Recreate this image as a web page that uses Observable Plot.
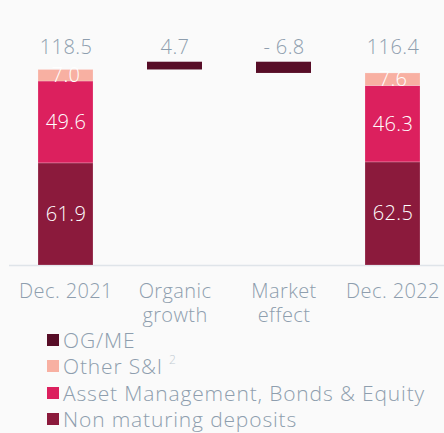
<!DOCTYPE html>
<html>
<head>
<meta charset="utf-8">
<script src="https://cdn.jsdelivr.net/npm/d3@7"></script>
<script src="https://cdn.jsdelivr.net/npm/@observablehq/plot@0.6"></script>
<style>
  html, body { margin: 0; padding: 0; background: #fafafa; }
  body { width: 444px; height: 433px; position: relative; overflow: hidden; font-family: "Open Sans", Lato, sans-serif; font-weight: 300; }
  #chart { position: absolute; left: 0; top: 0; }
  #legend { position: absolute; left: 47px; top: 327px; color: #8e9eae; font-size: 21px; letter-spacing: 0.85px; }
  .row { height: 26.3px; line-height: 26.3px; display: flex; align-items: center; white-space: nowrap; }
  .sw { width: 12px; height: 12px; margin-right: 4px; flex: none; }
  sup { font-size: 12px; color: #c3cbd3; margin-left: 6px; position: relative; top: -6px; }
</style>
</head>
<body>
<div id="chart"></div>
<div id="legend"></div>
<script>
// ---- data ----
const categories = ["Dec. 2021", "Organic growth", "Market effect", "Dec. 2022"];
const categoryLabels = ["Dec. 2021", "Organic\ngrowth", "Market\neffect", "Dec. 2022"];
const seriesNames = ["Non maturing deposits", "Asset Management, Bonds & Equity", "Other S&I"];
const dec2021 = [61.9, 49.6, 7.0];
const dec2022 = [62.5, 46.3, 7.6];
const totals = [118.5, 116.4];
const organicGrowth = 4.7;
const marketEffect = -6.8;
const topLabels = ["118.5", "4.7", "- 6.8", "116.4"];
const legendNames = ["OG/ME", "Other S&I", "Asset Management, Bonds & Equity", "Non maturing deposits"];

// ---- styles ----
const colors = {
  "OG/ME": "#570d27",
  "Other S&I": "#f8b0a2",
  "Asset Management, Bonds & Equity": "#dc205e",
  "Non maturing deposits": "#8b1a3c"
};
const labelColor = "#8e9eae";

// ---- derived tables ----
const stackRows = [];
seriesNames.forEach((s, i) => stackRows.push({cat: categories[0], series: s, value: dec2021[i]}));
seriesNames.forEach((s, i) => stackRows.push({cat: categories[3], series: s, value: dec2022[i]}));

const afterOrganic = totals[0] + organicGrowth;
const floatRows = [
  {cat: categories[1], y1: totals[0], y2: afterOrganic},
  {cat: categories[2], y1: afterOrganic, y2: afterOrganic + marketEffect}
];
const topRows = categories.map((c, i) => ({cat: c, label: topLabels[i]}));
const catRows = categories.map((c, i) => ({cat: c, label: categoryLabels[i]}));

const font = "'Open Sans', Lato, sans-serif";

const chart = Plot.plot({
  width: 444,
  height: 330,
  marginLeft: 9,
  marginRight: 0,
  marginTop: 1,
  marginBottom: 65,
  style: {background: "transparent", fontFamily: font, fontWeight: 300, letterSpacing: "0.4px"},
  x: {domain: categories, paddingInner: 0.5, paddingOuter: 0.2345, align: 0.545, axis: null},
  y: {domain: [0, 160], axis: null},
  marks: [
    Plot.ruleY([0], {stroke: "#dfe4e9", strokeWidth: 1.5}),
    Plot.barY(stackRows, {x: "cat", y: "value", fill: d => colors[d.series], stroke: "#ffffff", strokeOpacity: 0.25, strokeWidth: 0.8}),
    Plot.rectY(floatRows, {x: "cat", y1: "y1", y2: "y2", fill: colors["OG/ME"]}),
    Plot.text(stackRows, Plot.stackY({x: "cat", y: "value", text: d => d.value.toFixed(1), fill: "#ffffff", fontSize: 20, fontWeight: 300})),
    Plot.text(topRows, {x: "cat", text: "label", frameAnchor: "top", lineAnchor: "middle", dy: 46, fill: labelColor, fontSize: 20, fontWeight: 300}),
    Plot.text(catRows, {x: "cat", text: "label", frameAnchor: "bottom", lineAnchor: "top", dy: 15, lineHeight: 1.22, fill: labelColor, fontSize: 20, fontWeight: 300})
  ]
});
document.getElementById("chart").appendChild(chart);

const legend = document.getElementById("legend");
legendNames.forEach(name => {
  const row = document.createElement("div");
  row.className = "row";
  const sw = document.createElement("span");
  sw.className = "sw";
  sw.style.background = colors[name];
  row.appendChild(sw);
  const t = document.createElement("span");
  t.textContent = name;
  row.appendChild(t);
  if (name === "Other S&I") {
    const s = document.createElement("sup");
    s.textContent = "2";
    row.appendChild(s);
  }
  legend.appendChild(row);
});
</script>
</body>
</html>
